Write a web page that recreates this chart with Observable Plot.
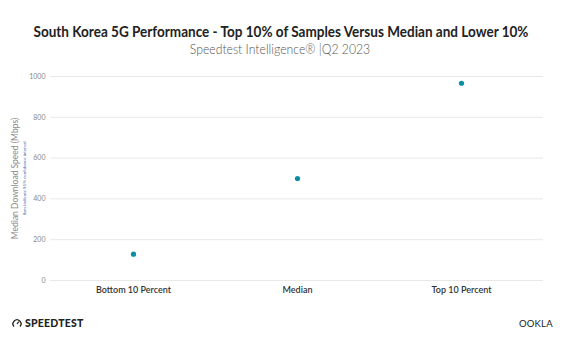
<!DOCTYPE html>
<html>
<head>
<meta charset="utf-8">
<script src="https://cdn.jsdelivr.net/npm/d3@7"></script>
<script src="https://cdn.jsdelivr.net/npm/@observablehq/plot@0.6"></script>
<style>
  html, body { margin: 0; padding: 0; background: #fff; }
  body { width: 566px; height: 344px; overflow: hidden; font-family: Lato, "Open Sans", sans-serif; position: relative; }
  #head { height: 60px; text-align: center; }
  #title { padding-top: 24px; font-size: 14.5px; font-weight: 700; color: #222; line-height: 16px; transform: translateX(-2px) scaleX(0.933); transform-origin: 50% 0; white-space: nowrap; }
  #subtitle { font-size: 13px; font-weight: 300; color: #555; line-height: 16px; margin-top: 1px; transform: translateX(-3px) scaleX(0.94); transform-origin: 50% 0; white-space: nowrap; }
  #chart { position: absolute; top: 60px; left: 0; }
  #foot-left { position: absolute; left: 12px; top: 317px; font-size: 10.5px; font-weight: 900; color: #222; letter-spacing: 0.2px; display: flex; align-items: center; gap: 3px; }
  #foot-right { position: absolute; left: 519px; top: 318px; font-size: 9.5px; font-weight: 400; color: #222; letter-spacing: 0.2px; }
</style>
</head>
<body>
<div id="head">
  <div id="title">South Korea 5G Performance - Top 10% of Samples Versus Median and Lower 10%</div>
  <div id="subtitle">Speedtest Intelligence® |Q2 2023</div>
</div>
<div id="chart"></div>
<div id="foot-left"><svg width="10" height="10" viewBox="0 0 10 10"><path d="M2 8.5 A4 4 0 1 1 8 8.5" fill="none" stroke="#222" stroke-width="1.3"/><path d="M5 6 L6.8 3.6" stroke="#222" stroke-width="1.2"/></svg><span>SPEEDTEST</span></div>
<div id="foot-right">OOKLA</div>
<script>
const categories = ["Bottom 10 Percent", "Median", "Top 10 Percent"];
const medianValues = [129, 500, 967];
const lowerValues = [127, 497, 959];
const upperValues = [131, 503, 975];
const yTicks = [0, 200, 400, 600, 800, 1000];
const yLabel = "Median Download Speed (Mbps)";
const yNote = "Bars indicate 95% confidence interval";

const data = categories.map((c, i) => ({category: c, value: medianValues[i], lo: lowerValues[i], hi: upperValues[i]}));

const chart = Plot.plot({
  width: 566,
  height: 250,
  marginTop: 16,
  marginBottom: 30,
  marginLeft: 50,
  marginRight: 23,
  style: {fontFamily: "Lato, sans-serif", background: "transparent"},
  x: {domain: categories, type: "point", padding: 0.5, label: null},
  y: {domain: [0, 1000], label: null},
  marks: [
    Plot.gridY(yTicks, {stroke: "#e8e8e8", strokeOpacity: 1, strokeWidth: 1}),
    Plot.axisY(yTicks, {tickSize: 0, tickPadding: 5, fontSize: 7, fill: "#888", tickFormat: d3.format("d"), label: null}),
    Plot.axisX({tickSize: 0, tickPadding: 6, fontSize: 9, fontWeight: 600, fill: "#333", label: null}),
    Plot.text([yLabel], {frameAnchor: "left", textAnchor: "middle", rotate: -90, dx: -35, fontSize: 8.5, fill: "#888"}),
    Plot.text([yNote], {frameAnchor: "left", textAnchor: "middle", rotate: -90, dx: -26, fontSize: 4.5, fill: "#5560a0"}),
    Plot.ruleX(data, {x: "category", y1: "lo", y2: "hi", stroke: "#0a8ea6", strokeWidth: 1.5}),
    Plot.dot(data, {x: "category", y: "value", r: 2.6, fill: "#0a8ea6", stroke: "none"})
  ]
});
document.getElementById("chart").appendChild(chart);
</script>
</body>
</html>
